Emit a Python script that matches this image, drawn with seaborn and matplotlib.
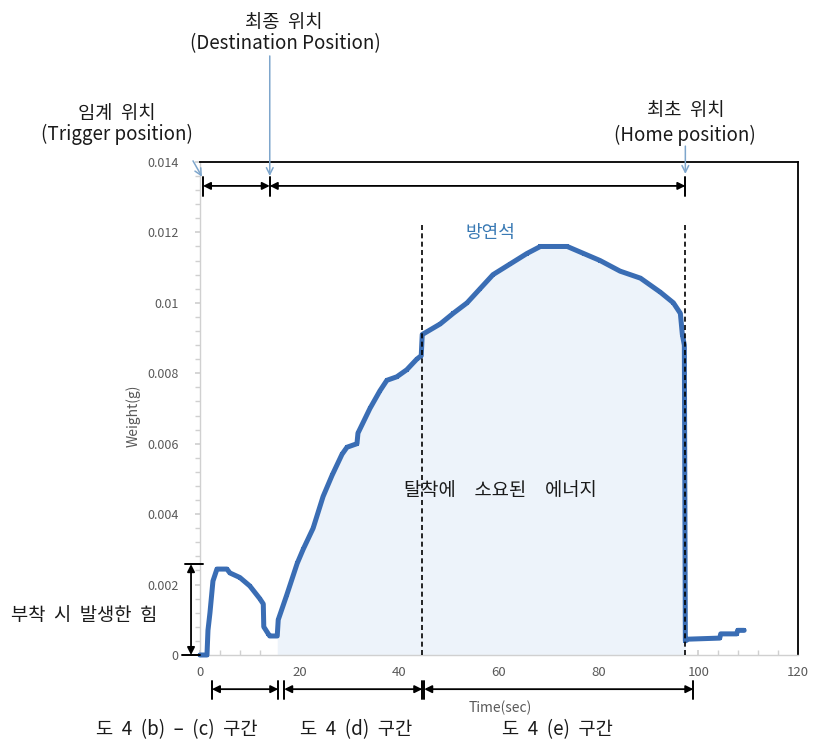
import numpy as np
import pandas as pd
import matplotlib
matplotlib.use("Agg")
import matplotlib.pyplot as plt
import seaborn as sns
from matplotlib.ticker import MultipleLocator, AutoMinorLocator, FuncFormatter

# ── style ───────────────────────────────────────────────
sns.set_theme(style="white")
plt.rcParams['font.family'] = ['Noto Sans CJK KR', 'DejaVu Sans']
plt.rcParams['axes.unicode_minus'] = False

# ── data ─────────────────────────────────────────────────
time_s = [0, 1.4, 1.6, 2.0, 2.6, 3.4, 5.4, 6.0, 8.0, 10.0, 12.0, 12.7, 12.8,
          13.7, 14.0, 15.5, 15.7, 17.4, 19.5, 20.7, 22.7, 24.7, 26.5, 28.5,
          29.5, 31.5, 31.7, 34.1, 36.1, 37.5, 39.5, 41.5, 43.5, 44.4, 44.6,
          48.2, 50.8, 53.6, 56.2, 58.8, 62.2, 65.6, 68.3, 73.7, 77.0, 80.3,
          84.3, 88.4, 92.4, 95.0, 96.4, 96.8, 97.2, 97.4, 98.0, 104.3, 104.5,
          107.7, 107.9, 109.2]
weight_g = [0, 0, 0.0007, 0.0012, 0.0021, 0.00244, 0.00244, 0.00233, 0.0022,
            0.00196, 0.0016, 0.00145, 0.0008, 0.0006, 0.00054, 0.00054, 0.0010,
            0.0017, 0.0026, 0.0030, 0.0036, 0.0045, 0.0051, 0.0057, 0.0059,
            0.0060, 0.0063, 0.0070, 0.0075, 0.0078, 0.0079, 0.0081, 0.0084,
            0.0085, 0.0091, 0.0094, 0.0097, 0.0100, 0.0104, 0.0108, 0.0111,
            0.0114, 0.0116, 0.0116, 0.0114, 0.0112, 0.0109, 0.0107, 0.0103,
            0.0100, 0.0097, 0.0091, 0.0088, 0.0004, 0.00045, 0.00048, 0.0006,
            0.0006, 0.0007, 0.0007]

df = pd.DataFrame({'time': time_s, 'weight': weight_g})

# phase boundaries (sec)
trigger_t = 0.6
destination_t = 14.0
home_t = 97.4
detach_start_t = 15.5
galena_split_t = 44.6
bottom_marks = [(2.4, 15.7), (16.9, 44.6), (45.0, 99.0)]
bottom_labels = ['도  4  (b)  –  (c)  구간', '도  4  (d)  구간', '도  4  (e)  구간']
bottom_label_x = [-4.6, 31.3, 71.7]
attach_force = 0.00258

line_blue = '#3a6db4'
fill_blue = '#edf3fa'
pointer_blue = '#7ea6cc'

# ── figure ───────────────────────────────────────────────
fig = plt.figure(figsize=(8.13, 7.45), dpi=100)
ax = fig.add_axes([0.246, 0.1208, 0.7355, 0.6618])

# shaded energy area
seg = df[(df['time'] >= detach_start_t) & (df['time'] <= home_t)]
ax.fill_between(seg['time'], 0, seg['weight'], color=fill_blue, lw=0, zorder=1)

sns.lineplot(data=df, x='time', y='weight', estimator=None, sort=False, ax=ax,
             color=line_blue, lw=3.6, marker='s', markersize=3.5,
             markeredgewidth=0, zorder=3, clip_on=False)

# dashed phase lines
ax.vlines([galena_split_t, home_t], 0, 0.0122, colors='black',
          linestyles=(0, (3, 2)), lw=1.2, zorder=4)

ax.set_xlim(0, 120)
ax.set_ylim(0, 0.014)
ax.xaxis.set_major_locator(MultipleLocator(20))
ax.yaxis.set_major_locator(MultipleLocator(0.002))
ax.xaxis.set_minor_locator(AutoMinorLocator(5))
ax.yaxis.set_minor_locator(AutoMinorLocator(5))
ax.yaxis.set_major_formatter(FuncFormatter(lambda v, p: f'{v:g}'))

ax.tick_params(axis='y', which='both', direction='out', length=3.5,
               color='#d0d0d0', labelsize=9, labelcolor='#595959', pad=12, left=True)
ax.tick_params(axis='x', which='both', direction='in', length=3.5,
               color='#d0d0d0', labelsize=9.5, labelcolor='#595959', pad=8, bottom=True)

for s in ['left', 'bottom']:
    ax.spines[s].set_color('#d0d0d0')
    ax.spines[s].set_linewidth(1.0)
for s in ['top', 'right']:
    ax.spines[s].set_color('black')
    ax.spines[s].set_linewidth(1.3)

ax.set_xlabel('Time(sec)', fontsize=10, color='#595959')
ax.set_ylabel('Weight(g)', fontsize=10, color='#595959')
ax.xaxis.set_label_coords(0.502, -0.093)
ax.yaxis.set_label_coords(-0.10, 0.486)


def dbl_arrow(x1, y1, x2, y2):
    ax.annotate('', xy=(x2, y2), xytext=(x1, y1),
                arrowprops=dict(arrowstyle='<|-|>', color='black', lw=1.3,
                                mutation_scale=11, shrinkA=0, shrinkB=0),
                annotation_clip=False, zorder=5)


def bar(x1, y1, x2, y2):
    ax.plot([x1, x2], [y1, y2], color='black', lw=1.4, clip_on=False, zorder=5)


def pointer(x1, y1, x2, y2):
    ax.annotate('', xy=(x2, y2), xytext=(x1, y1),
                arrowprops=dict(arrowstyle='->', color=pointer_blue, lw=1.1,
                                mutation_scale=12, shrinkA=0, shrinkB=0),
                annotation_clip=False, zorder=5)


# top row of phase arrows
top_y = 0.01332
dbl_arrow(trigger_t, top_y, destination_t, top_y)
dbl_arrow(destination_t, top_y, home_t, top_y)
for t in [trigger_t, destination_t, home_t]:
    bar(t, 0.01357, t, 0.01303)

# blue pointers from the position labels
pointer(-1.4, 0.01403, 0.4, 0.01358)
pointer(destination_t, 0.01701, destination_t, 0.01360)
pointer(home_t, 0.01445, home_t, 0.01366)

# attach force arrow on the left
dbl_arrow(-1.8, 0.0, -1.8, attach_force)
bar(-3.0, attach_force, 0.6, attach_force)
bar(-3.6, 0.0, 0.0, 0.0)

# bottom phase arrows
bot_y = -0.00097
for a, b in bottom_marks:
    dbl_arrow(a, bot_y, b, bot_y)
    bar(a, -0.00074, a, -0.00125)
    bar(b, -0.00074, b, -0.00125)

# texts
txt = dict(ha='center', va='center', fontsize=13.5, color='#1a1a1a', clip_on=False)
ax.text(16.9, 0.01795, '최종  위치', **txt)
ax.text(17.1, 0.01735, '(Destination Position)', **txt)
ax.text(-16.7, 0.01539, '임계  위치', **txt)
ax.text(-16.7, 0.01477, '(Trigger position)', **txt)
ax.text(97.4, 0.01545, '최초  위치', **txt)
ax.text(97.4, 0.01474, '(Home position)', **txt)
ax.text(58.2, 0.01198, '방연석', ha='center', va='center', fontsize=13,
        color='#3a7ab4')
ax.text(60.2, 0.00466, '탈착에\u3000소요된\u3000에너지', **txt)
ax.text(-23.3, 0.00111, '부착  시  발생한  힘', **txt)
for lx, lab in zip(bottom_label_x, bottom_labels):
    ax.text(lx, -0.00213, lab, **txt)

plt.savefig('out.png', dpi=100)
